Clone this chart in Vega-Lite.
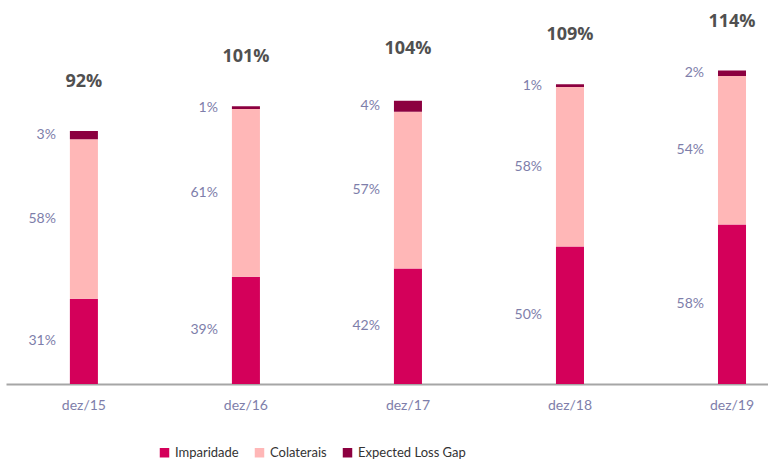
{
  "$schema": "https://vega.github.io/schema/vega-lite/v6.json",
  "width": 762,
  "height": 374,
  "autosize": {"type": "none"},
  "padding": {"left": 6, "top": 10, "right": 0, "bottom": 77},
  "background": "white",
  "config": {"view": {"stroke": null}, "font": "Lato"},
  "datasets": {
    "seg": [
      {"periodo": "dez/15", "serie": "Imparidade", "valor": 31},
      {"periodo": "dez/15", "serie": "Colaterais", "valor": 58},
      {"periodo": "dez/15", "serie": "Expected Loss Gap", "valor": 3},
      {"periodo": "dez/16", "serie": "Imparidade", "valor": 39},
      {"periodo": "dez/16", "serie": "Colaterais", "valor": 61},
      {"periodo": "dez/16", "serie": "Expected Loss Gap", "valor": 1},
      {"periodo": "dez/17", "serie": "Imparidade", "valor": 42},
      {"periodo": "dez/17", "serie": "Colaterais", "valor": 57},
      {"periodo": "dez/17", "serie": "Expected Loss Gap", "valor": 4},
      {"periodo": "dez/18", "serie": "Imparidade", "valor": 50},
      {"periodo": "dez/18", "serie": "Colaterais", "valor": 58},
      {"periodo": "dez/18", "serie": "Expected Loss Gap", "valor": 1},
      {"periodo": "dez/19", "serie": "Imparidade", "valor": 58},
      {"periodo": "dez/19", "serie": "Colaterais", "valor": 54},
      {"periodo": "dez/19", "serie": "Expected Loss Gap", "valor": 2}
    ],
    "tot": [
      {"periodo": "dez/15", "total": 92},
      {"periodo": "dez/16", "total": 101},
      {"periodo": "dez/17", "total": 104},
      {"periodo": "dez/18", "total": 109},
      {"periodo": "dez/19", "total": 114}
    ]
  },
  "layer": [
    {
      "data": {"name": "seg"},
      "transform": [
        {"calculate": "indexof(['Imparidade','Colaterais','Expected Loss Gap'], datum.serie)", "as": "ord"},
        {"stack": "valor", "groupby": ["periodo"], "sort": [{"field": "ord", "order": "ascending"}], "as": ["v0", "v1"]},
        {"calculate": "(datum.v0 + datum.v1) / 2", "as": "vmid"},
        {"calculate": "datum.valor + '%'", "as": "rotulo"}
      ],
      "layer": [
        {
          "mark": {"type": "bar"},
          "encoding": {
            "x": {"field": "periodo", "type": "nominal", "sort": null,
              "scale": {"paddingInner": 0.827, "paddingOuter": 0.265, "align": 0.744},
              "axis": {"title": null, "labelAngle": 0, "ticks": false, "domainColor": "#A6A6A6", "domainWidth": 2, "labelColor": "#7E7EAA", "labelFontSize": 14, "labelPadding": 14, "labelFont": "Lato"}},
            "y": {"field": "v0", "type": "quantitative", "scale": {"domain": [0, 136], "nice": false, "zero": true}, "axis": null},
            "y2": {"field": "v1"},
            "color": {"field": "serie", "type": "nominal",
              "scale": {"domain": ["Imparidade", "Colaterais", "Expected Loss Gap"], "range": ["#D4005A", "#FFB7B7", "#8C0040"]},
              "legend": {"title": null, "orient": "none", "legendX": 152, "legendY": 436, "direction": "horizontal", "symbolType": "square", "symbolSize": 90, "symbolStrokeWidth": 0, "labelFontSize": 13, "labelColor": "#333333", "columnPadding": 14, "labelOffset": 4, "labelFont": "Lato"}}
          }
        },
        {
          "mark": {"type": "text", "align": "right", "baseline": "middle", "dx": -28, "fontSize": 14, "color": "#7E7EAA"},
          "encoding": {
            "x": {"field": "periodo", "type": "nominal", "sort": null},
            "y": {"field": "vmid", "type": "quantitative"},
            "text": {"field": "rotulo"}
          }
        }
      ]
    },
    {
      "data": {"name": "tot"},
      "transform": [{"calculate": "datum.total + '%'", "as": "rotulo"}],
      "mark": {"type": "text", "align": "center", "baseline": "middle", "dy": -49, "fontSize": 18, "fontWeight": "bold", "color": "#505050", "font": "Open Sans"},
      "encoding": {
        "x": {"field": "periodo", "type": "nominal", "sort": null},
        "y": {"field": "total", "type": "quantitative"},
        "text": {"field": "rotulo"}
      }
    }
  ]
}
